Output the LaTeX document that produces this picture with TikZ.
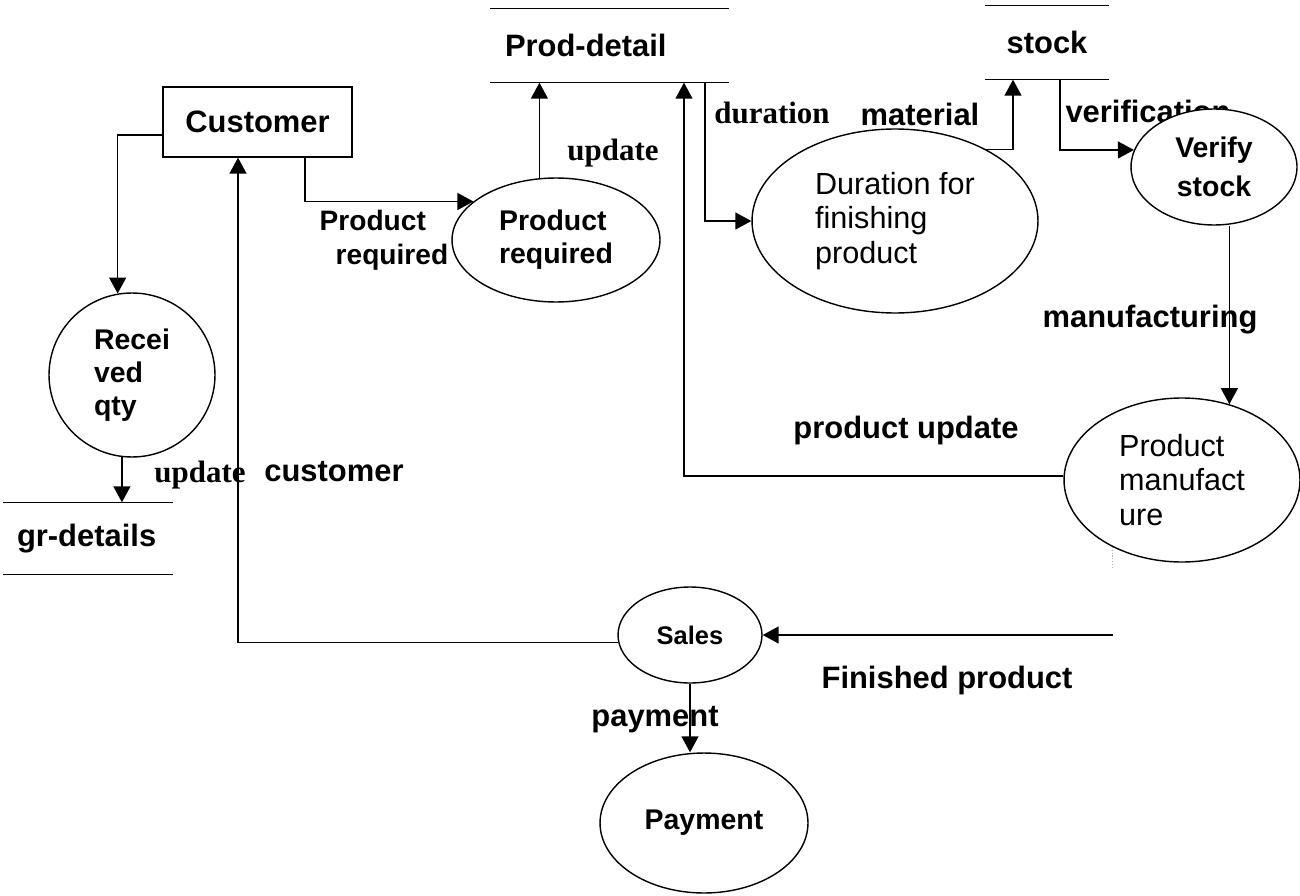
\documentclass[tikz,border=0pt]{standalone}
\usepackage{fontspec}
\setmainfont{Liberation Serif}
\setsansfont{Liberation Sans}
\usetikzlibrary{shapes.geometric,arrows.meta}

\begin{document}
\begin{tikzpicture}[x=0.02cm, y=-0.02cm, line width=0.8pt,
  flow/.style={draw, -{Triangle[length=0.32cm,width=0.34cm]}},
  lbl/.style={font=\sffamily\bfseries\fontsize{17.6}{21}\selectfont, inner sep=0},
  slbl/.style={font=\rmfamily\bfseries\fontsize{17.6}{21}\selectfont, inner sep=0},
  proc/.style={ellipse, draw, fill=white, inner sep=0, align=left},
  bproc/.style={proc, font=\sffamily\bfseries\fontsize{16.2}{18.7}\selectfont},
  rproc/.style={proc, font=\sffamily\fontsize{17.4}{19.6}\selectfont},
  entity/.style={draw, fill=white, inner sep=0, minimum width=3.78cm, minimum height=1.4cm,
    font=\sffamily\bfseries\fontsize{17.6}{21}\selectfont},
  store/.style={inner xsep=0, inner ysep=0, minimum height=1.46cm,
    font=\sffamily\bfseries\fontsize{17.6}{21}\selectfont}
]
\useasboundingbox (0,0) rectangle (1300,895);

% flow label partly hidden behind the verify process
\node[lbl] (l-verif) at (1148,111) {verification};

% external entity
\node[entity] (cust) at (257.5,122) {Customer};

% data stores (open-ended: top and bottom rules only)
\node[store, minimum width=4.74cm, text width=4.18cm, inner xsep=0.28cm, align=left]
  (pd) at (609.5,45.5) {Prod-detail};
\node[store, minimum width=2.44cm] (stk) at (1047,42.5) {stock};
\node[store, minimum width=3.36cm, minimum height=1.42cm, text width=2.84cm,
  inner xsep=0.26cm, align=left] (gr) at (88,538.5) {gr-details};
\draw (pd.north west) -- (pd.north east) (pd.south west) -- (pd.south east);
\draw (stk.north west) -- (stk.north east) (stk.south west) -- (stk.south east);
\draw (gr.north west) -- (gr.north east) (gr.south west) -- (gr.south east);

% processes
\node[bproc, minimum width=3.32cm, minimum height=3.28cm] (rq) at (132,375) {Recei\\ved\\qty};
\node[bproc, minimum width=4.16cm, minimum height=2.48cm] (pr) at (556,240) {Product\\required};
\node[rproc, minimum width=5.72cm, minimum height=3.68cm] (dur) at (895,221)
  {Duration for\\finishing\\product};
\node[bproc, align=center, font=\sffamily\bfseries\fontsize{16.2}{22}\selectfont,
  minimum width=3.32cm, minimum height=2.32cm] (vs) at (1214,167) {Verify\\stock};
\node[rproc, minimum width=4.72cm, minimum height=3.28cm] (pm) at (1182,480)
  {Product\\manufact\\ure};
\node[bproc, font=\sffamily\bfseries\fontsize{14.5}{17}\selectfont,
  minimum width=2.88cm, minimum height=1.92cm] (sales) at (690,635) {Sales};
\node[bproc, minimum width=4.16cm, minimum height=2.8cm] (pay) at (704,823) {Payment};

% data flows
\draw[flow] ([yshift=-0.26cm]cust.west) -| (rq.100);
\draw[flow] (rq.263) -- (rq.263 |- gr.north);
\draw[flow] (sales.186) -| ([xshift=-0.39cm]cust.south);
\draw[flow] ([xshift=0.95cm]cust.south) |- (pr.155);
\draw[flow] (pr.105) -- (pr.105 |- pd.south);
\draw[flow] (pm.178) -| ([xshift=1.49cm]pd.south);
\draw[flow] ([xshift=1.91cm]pd.south) |- (dur.west);
\draw[flow] (dur.38) -| ([xshift=-0.68cm]stk.south);
\draw[flow] ([xshift=0.26cm]stk.south) |- (vs.168);
\draw[flow] (pm.58 |- vs.south) -- (pm.58);
\coordinate (fp) at (pm.224 |- sales.east);
\draw[flow] (fp) -- (sales.east);
\draw[gray!60, densely dotted, line width=0.6pt] (pm.224) -- ++(0,22);
\draw[flow] (sales.south) -- (sales.south |- pay.north);

% flow labels
\node[lbl, font=\sffamily\bfseries\fontsize{16}{19.3}\selectfont, align=left, anchor=west]
  (l-preq) at (319,240) {Product\\\hspace*{0.32cm}required};
\node[slbl] (l-upd1) at (613,153) {update};
\node[slbl] (l-dur) at (772,113) {duration};
\node[lbl] (l-mat) at (920,114) {material};
\node[lbl] (l-manu) at (1150,320) {manufacturing};
\node[lbl] (l-pupd) at (906,430) {product update};
\node[slbl] (l-upd2) at (200,475) {update};
\node[lbl] (l-cust) at (334,472) {customer};
\node[lbl] (l-fin) at (947,680) {Finished product};
\node[lbl] (l-pay) at (655,720) {payment};
\end{tikzpicture}
\end{document}
